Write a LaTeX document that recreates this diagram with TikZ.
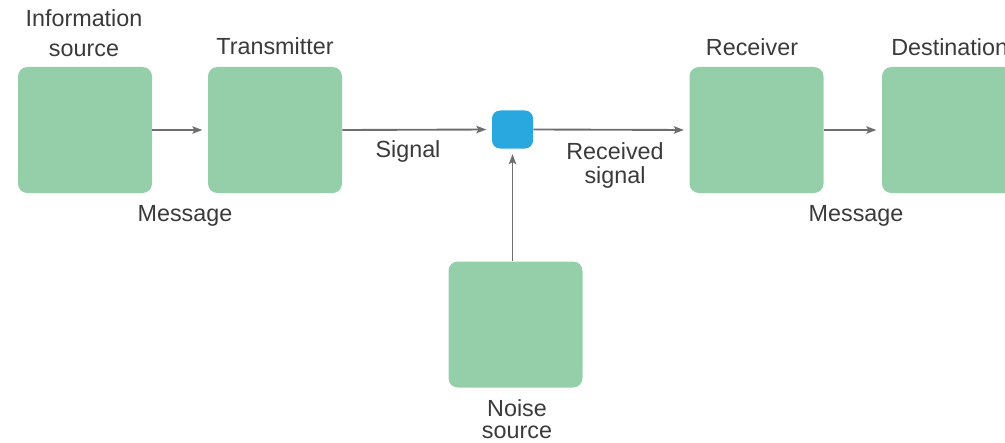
\documentclass[tikz,border=0pt]{standalone}
\usepackage{fontspec}
\setmainfont{Liberation Sans}
\usetikzlibrary{arrows.meta}
\definecolor{boxgreen}{HTML}{95CFA9}
\definecolor{hubblue}{HTML}{29A8E0}
\definecolor{inkgray}{HTML}{3A3A3A}
\definecolor{wiregray}{HTML}{6E6E6E}
\begin{document}
\begin{tikzpicture}[x=0.75pt,y=-0.75pt,
  block/.style={fill=boxgreen, draw=none, rounded corners=7pt, inner sep=0pt,
    minimum width=100.5pt, minimum height=94.5pt},
  hub/.style={fill=hubblue, draw=none, rounded corners=6pt, inner sep=0pt,
    minimum width=30.75pt, minimum height=28.5pt},
  lbl/.style={text=inkgray, font=\fontsize{17.5}{17.5}\selectfont, align=center, anchor=base, inner sep=0pt},
  wire/.style={draw=wiregray, line width=1.4pt,
    -{Stealth[length=7.5pt,width=5.5pt,inset=1.5pt]}, shorten >=4pt}]
\useasboundingbox (0,0) rectangle (1005,442);

% blocks of the channel
\node[block] (src) at (85,130) {};
\node[block] (tx) at (275,130) {};
\node[hub] (mix) at (512.5,129.5) {};
\node[block] (rx) at (756.5,130) {};
\node[block] (dst) at (949,130) {};
\node[block] (noise) at (515.5,324.5) {};

% connectors
\draw[wire] (src.east) -- (tx.west);
\draw[wire] (tx.east) -- (mix.west);
\draw[wire] (mix.east) -- (rx.west);
\draw[wire] (rx.east) -- (dst.west);
\draw[wire] (noise.north -| mix.south) -- (mix.south);

% labels (multi-line labels are placed by the baseline of their last line)
\node[lbl] (lsrc) at (84,57) {Information\\[5pt]source};
\node[lbl] (ltx) at (275,55) {Transmitter};
\node[lbl] (lmsg1) at (185,221) {Message};
\node[lbl] (lsig) at (408,157) {Signal};
\node[lbl] (lrsig) at (615,183) {Received\\signal};
\node[lbl] (lrx) at (752,56) {Receiver};
\node[lbl, anchor=base west] (ldst) at (891,56) {Destination};
\node[lbl] (lmsg2) at (856,221) {Message};
\node[lbl] (lnoise) at (517,438) {Noise\\[-1pt]source};
\end{tikzpicture}
\end{document}
